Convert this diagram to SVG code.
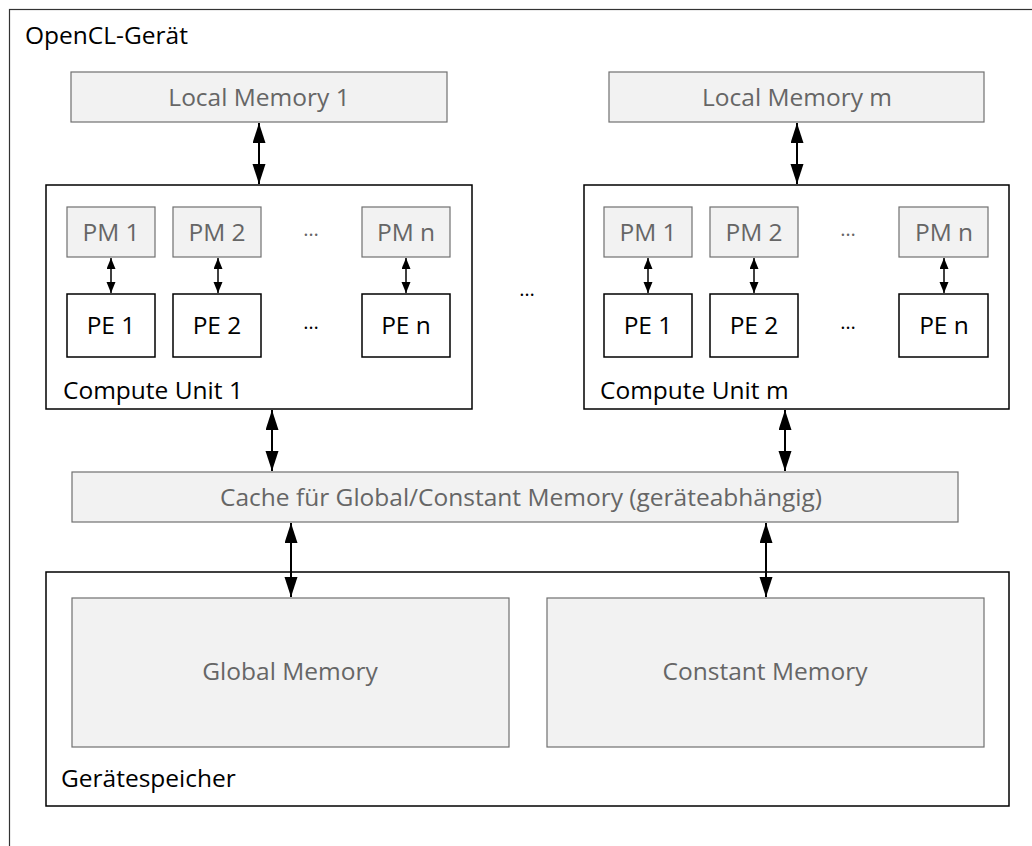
<svg xmlns="http://www.w3.org/2000/svg" width="1032" height="846" viewBox="0 0 1032 846">
<style>
text{font-family:"Open Sans","Noto Sans","DejaVu Sans",sans-serif;font-size:24.5px}
.mem{fill:#f2f2f2;stroke:#707070;stroke-width:1.2}
.mt{fill:#666;text-anchor:middle}
.box{fill:#fff;stroke:#000;stroke-width:1.5}
.bt{fill:#000;text-anchor:middle}
.lbl{fill:#000}
.dots{font-size:20px;text-anchor:middle}
.big{stroke:#000;stroke-width:2;fill:none;marker-start:url(#ab);marker-end:url(#ab)}
.sm{stroke:#000;stroke-width:1.5;fill:none;marker-start:url(#as);marker-end:url(#as)}
</style>
<defs>
<marker id="ab" markerUnits="userSpaceOnUse" markerWidth="20" markerHeight="14" refX="20" refY="6.5" orient="auto-start-reverse"><path d="M0,0 L20,6.5 L0,13 z" fill="#000"/></marker>
<marker id="as" markerUnits="userSpaceOnUse" markerWidth="11" markerHeight="10" refX="11" refY="4.5" orient="auto-start-reverse"><path d="M0,0 L11,4.5 L0,9 z" fill="#000"/></marker>
</defs>
<rect width="1032" height="846" fill="#fff"/>
<g id="device">
<rect x="9.5" y="9.5" width="1100" height="1000" fill="none" stroke="#333" stroke-width="1.2"/>
<text class="lbl" x="25" y="44">OpenCL-Gerät</text>
</g>
<g id="lm1"><rect class="mem" x="71" y="72" width="376" height="50"/><text class="mt" x="259" y="106">Local Memory 1</text></g>
<g id="lmm"><rect class="mem" x="609" y="72" width="375" height="50"/><text class="mt" x="797" y="106">Local Memory m</text></g>
<g id="cu1">
<rect class="box" x="46" y="185" width="426" height="224"/>
<text class="lbl" x="63" y="399">Compute Unit 1</text>
</g>
<g id="cu1-pm1"><rect class="mem" x="67" y="207" width="88" height="50"/><text class="mt" x="111" y="241">PM 1</text></g>
<g id="cu1-pm2"><rect class="mem" x="173" y="207" width="88" height="50"/><text class="mt" x="217" y="241">PM 2</text></g>
<g id="cu1-pmn"><rect class="mem" x="362" y="207" width="88" height="50"/><text class="mt" x="406" y="241">PM n</text></g>
<g id="cu1-pe1"><rect class="box" x="67" y="294" width="88" height="63"/><text class="bt" x="111" y="334">PE 1</text></g>
<g id="cu1-pe2"><rect class="box" x="173" y="294" width="88" height="63"/><text class="bt" x="217" y="334">PE 2</text></g>
<g id="cu1-pen"><rect class="box" x="362" y="294" width="88" height="63"/><text class="bt" x="406" y="334">PE n</text></g>
<text class="dots" x="311" y="236" fill="#666">…</text>
<text class="dots" x="311" y="329" fill="#000">…</text>
<g id="cum">
<rect class="box" x="584" y="185" width="425" height="224"/>
<text class="lbl" x="600" y="399">Compute Unit m</text>
</g>
<g id="cum-pm1"><rect class="mem" x="604" y="207" width="88" height="50"/><text class="mt" x="648" y="241">PM 1</text></g>
<g id="cum-pm2"><rect class="mem" x="710" y="207" width="88" height="50"/><text class="mt" x="754" y="241">PM 2</text></g>
<g id="cum-pmn"><rect class="mem" x="899" y="207" width="89" height="50"/><text class="mt" x="944" y="241">PM n</text></g>
<g id="cum-pe1"><rect class="box" x="604" y="294" width="88" height="63"/><text class="bt" x="648" y="334">PE 1</text></g>
<g id="cum-pe2"><rect class="box" x="710" y="294" width="88" height="63"/><text class="bt" x="754" y="334">PE 2</text></g>
<g id="cum-pen"><rect class="box" x="899" y="294" width="89" height="63"/><text class="bt" x="944" y="334">PE n</text></g>
<text class="dots" x="848" y="236" fill="#666">…</text>
<text class="dots" x="848" y="329" fill="#000">…</text>
<text class="dots" x="527" y="296" fill="#000">…</text>
<g id="cache"><rect class="mem" x="72" y="472" width="886" height="50"/><text class="mt" x="521" y="506">Cache für Global/Constant Memory (geräteabhängig)</text></g>
<g id="devmem">
<rect class="box" x="46" y="572" width="963" height="234"/>
<text class="lbl" x="61" y="787">Gerätespeicher</text>
</g>
<g id="global"><rect class="mem" x="72" y="598" width="437" height="149"/><text class="mt" x="290" y="680">Global Memory</text></g>
<g id="constant"><rect class="mem" x="547" y="598" width="437" height="149"/><text class="mt" x="765" y="680">Constant Memory</text></g>
<g id="connectors">
<line class="big" x1="259" y1="123" x2="259" y2="184"/>
<line class="big" x1="797" y1="123" x2="797" y2="184"/>
<line class="sm" x1="111" y1="258" x2="111" y2="293"/>
<line class="sm" x1="218" y1="258" x2="218" y2="293"/>
<line class="sm" x1="406" y1="258" x2="406" y2="293"/>
<line class="sm" x1="648" y1="258" x2="648" y2="293"/>
<line class="sm" x1="754" y1="258" x2="754" y2="293"/>
<line class="sm" x1="944" y1="258" x2="944" y2="293"/>
<line class="big" x1="272" y1="410" x2="272" y2="471"/>
<line class="big" x1="785" y1="410" x2="785" y2="471"/>
<line class="big" x1="291" y1="523" x2="291" y2="597"/>
<line class="big" x1="766" y1="523" x2="766" y2="597"/>
</g>
</svg>
